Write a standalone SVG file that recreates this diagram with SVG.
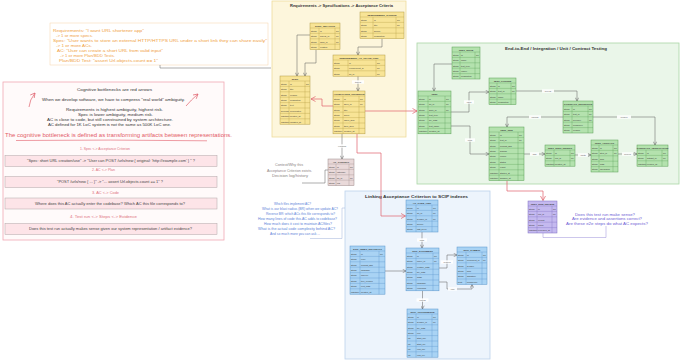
<svg xmlns="http://www.w3.org/2000/svg" width="680" height="361" viewBox="0 0 680 361">
<defs>
<style>
text{font-family:"Liberation Sans",Arial,sans-serif}
.rg{stroke-width:.8}
.ry{fill:#fdf6dc;stroke:#eedc9c}
.rgn{fill:#eaf6e9;stroke:#aad6a6}
.rb{fill:#edf4fc;stroke:#bcd2ec}
.ttl{font-size:4.3px;font-weight:bold;fill:#333}
.tb rect{stroke-width:.5}
.tb path{fill:none;stroke-width:.35}
.tb text{font-size:2.2px;fill:#333}
.tb .h{font-size:2.4px;font-weight:bold;text-anchor:middle}
.y rect{fill:#f8e496;stroke:#b39c44}.y path{stroke:#b39c44}
.b rect{fill:#a9d3f4;stroke:#5a95cb}.b path{stroke:#5a95cb}
.g rect{fill:#b4e2ae;stroke:#5a9f56}.g path{stroke:#5a9f56}
.p rect{fill:#c4b9ef;stroke:#7d6ec2}.p path{stroke:#7d6ec2}
.c rect{fill:#e9d9d9;stroke:#9c8a8a}.c path{stroke:#9c8a8a}
.cn path{fill:none;stroke:#5a5a5a;stroke-width:.5}
.cn .rd{stroke:#e0606c;stroke-width:.7}
.lb rect{fill:#fff;opacity:.9}
.lb text{font-size:2.2px;fill:#555;text-anchor:middle}
.or{font-size:4.3px;fill:#f0a040}
.lt{font-size:4px;fill:#333}
.rt{font-size:3.4px;fill:#e0707c}
.bx{fill:#fde4e8;stroke:#b0a6a8;stroke-width:.5}
.bt{font-size:3.3px;fill:#444}
.bq{font-size:3.7px;fill:#5a82d8}
.pq{font-size:3.6px;fill:#6c5bd4}
.cq{font-size:3.6px;fill:#8a7f7f}
.br{fill:none;stroke-width:.5}
</style>
<marker id="ag" markerWidth="4" markerHeight="4" refX="3.6" refY="2" orient="auto" markerUnits="userSpaceOnUse"><path d="M0.3,0.3L3.6,2L0.3,3.7" fill="none" stroke="#5a5a5a" stroke-width=".5"/></marker>
<marker id="ar" markerWidth="6" markerHeight="6" refX="5" refY="3" orient="auto" markerUnits="userSpaceOnUse"><path d="M0.5,0.5L5,3L0.5,5.5" fill="none" stroke="#e0606c" stroke-width=".7"/></marker>
</defs>
<rect width="680" height="361" fill="#fff"/>

<!-- orange note -->
<g id="note-requirements">
<rect x="50" y="23" width="218" height="42" fill="none" stroke="#f6d3a8" stroke-width=".5"/>
<text class="or" x="53" y="32.2" textLength="91" lengthAdjust="spacingAndGlyphs">Requirements: "I want URL shortener app"</text>
<text class="or" x="56" y="37" textLength="37" lengthAdjust="spacingAndGlyphs">-&gt; 1 or more specs.</text>
<text class="or" x="53" y="42.2" textLength="214" lengthAdjust="spacingAndGlyphs">Spec: "User wants to store an external HTTP/HTTPS URL under a short link they can share easily"</text>
<text class="or" x="56" y="47.2" textLength="36" lengthAdjust="spacingAndGlyphs">-&gt; 1 or more ACs.</text>
<text class="or" x="57" y="52.2" textLength="106" lengthAdjust="spacingAndGlyphs">AC: "User can create a short URL from valid input"</text>
<text class="or" x="60" y="57.2" textLength="55" lengthAdjust="spacingAndGlyphs">-&gt; 1 or more Plan/BDD Tests.</text>
<text class="or" x="59" y="62.2" textLength="99" lengthAdjust="spacingAndGlyphs">Plan/BDD Test: "assert Url.objects.count == 1"</text>
</g>

<!-- left explanation box -->
<g id="note-bottlenecks">
<rect x="3" y="82" width="221" height="158" fill="#fffafa" stroke="#f1a9b3" stroke-width=".8"/>
<text class="lt" x="77" y="90.7" textLength="75" lengthAdjust="spacingAndGlyphs">Cognitive bottlenecks are red arrows</text>
<text class="lt" x="42" y="100.7" textLength="143" lengthAdjust="spacingAndGlyphs">When we develop software, we have to compress "real world" ambiguity.</text>
<text class="lt" x="66" y="111.4" textLength="97" lengthAdjust="spacingAndGlyphs">Requirements is highest ambiguity, highest risk.</text>
<text class="lt" x="78" y="115.9" textLength="75" lengthAdjust="spacingAndGlyphs">Spec is lower ambiguity, medium risk.</text>
<text class="lt" x="47" y="120.7" textLength="126" lengthAdjust="spacingAndGlyphs">AC is close to code, but still constrained by system architecture.</text>
<text class="lt" x="48" y="125.7" textLength="123" lengthAdjust="spacingAndGlyphs">AC defined for 1K LoC system is not the same as 500K LoC one.</text>
<path d="M29,107Q29.5,100 35,93" fill="none" stroke="#e0606c" stroke-width=".7" marker-end="url(#ar)"/>
<path d="M186,106Q191,100 198,94" fill="none" stroke="#e0606c" stroke-width=".7" marker-end="url(#ar)"/>
<text x="5" y="136.8" font-size="5.4" fill="#e35a68" textLength="227" lengthAdjust="spacingAndGlyphs">The cognitive bottleneck is defined as transforming artifacts between representations.</text>
<path d="M16,140.5Q110,139.5 207,140.8" fill="none" stroke="#e35a68" stroke-width=".6"/>
<text class="rt" x="80" y="150.2" textLength="50" lengthAdjust="spacingAndGlyphs">1. Spec &lt;-&gt; Acceptance Criterion</text>
<rect class="bx" x="5" y="155.5" width="212" height="11"/>
<text class="bt" x="27" y="162.2" textLength="168" lengthAdjust="spacingAndGlyphs">"Spec: short URL creation/use" -&gt; "User can POST /urls/new { original: 'http://example.com' } " ?</text>
<text class="rt" x="92" y="171.4" textLength="23" lengthAdjust="spacingAndGlyphs">2. AC &lt;-&gt; Plan</text>
<rect class="bx" x="5" y="176.5" width="212" height="11"/>
<text class="bt" x="57" y="183.2" textLength="106" lengthAdjust="spacingAndGlyphs">"POST /urls/new { ... }" -&gt; "... assert Url.objects.count == 1" ?</text>
<text class="rt" x="92" y="194.4" textLength="27" lengthAdjust="spacingAndGlyphs">3. AC &lt;-&gt; Code</text>
<rect class="bx" x="5" y="198" width="212" height="11"/>
<text class="bt" x="35" y="204.7" textLength="150" lengthAdjust="spacingAndGlyphs">Where does this AC actually enter the codebase? Which AC this file corresponds to?</text>
<text class="rt" x="70" y="218.4" textLength="67" lengthAdjust="spacingAndGlyphs">4. Test run &lt;-&gt; Steps &lt;-&gt; Evidence</text>
<rect class="bx" x="5" y="223.5" width="212" height="11"/>
<text class="bt" x="29" y="230.2" textLength="163" lengthAdjust="spacingAndGlyphs">Does this test run actually makes sense given our system representation / artifact evidence?</text>
</g>

<!-- regions -->
<g id="region-requirements">
<rect class="rg ry" x="272" y="1" width="134" height="136"/>
<text class="ttl" x="290" y="7" textLength="103" lengthAdjust="spacingAndGlyphs">Requirements -&gt; Specifications -&gt; Acceptance Criteria</text>
</g>
<g id="region-testing">
<rect class="rg rgn" x="417" y="43" width="262" height="141"/>
<text class="ttl" x="505" y="49.5" textLength="102" lengthAdjust="spacingAndGlyphs">End-to-End / Integration / Unit / Contract Testing</text>
</g>
<g id="region-scip">
<rect class="rg rb" x="345" y="191" width="145" height="168"/>
<text class="ttl" x="365" y="197.5" textLength="103" lengthAdjust="spacingAndGlyphs">Linking Acceptance Criterion to SCIP indexes</text>
</g>

<!-- connectors -->
<g id="connectors" class="cn">
<path d="M160,65V68H271"/>
<path d="M310,35H297V76" marker-end="url(#ag)"/>
<path d="M316,49.6V63H305V76" marker-end="url(#ag)"/>
<path d="M382,38.6V47H358V55" marker-end="url(#ag)"/>
<path d="M358,76.2V91" marker-end="url(#ag)"/>
<path d="M342,133.8V159" marker-end="url(#ag)"/>
<path d="M302,183H325V170H328"/>
<path class="rd" d="M333,106H322V99H311" marker-end="url(#ar)"/>
<path class="rd" d="M365,111H417" marker-end="url(#ar)"/>
<path class="rd" d="M357,133.8V153H381V216H405.5" marker-end="url(#ar)"/>
<path class="rd" d="M507,180.6V191H543V200.5" marker-end="url(#ar)"/>
<path d="M422,232V248" marker-end="url(#ag)"/>
<path d="M385,271H406" marker-end="url(#ag)"/>
<path d="M439,268H447V255H457" marker-end="url(#ag)"/>
<path d="M439,282H447V289H472V284.4" marker-end="url(#ag)"/>
<path d="M422.5,290.8V309" marker-end="url(#ag)"/>
<path d="M310,238.5H342V208H345" style="stroke:#9fb0d8"/>
<path d="M452,64H434V91" marker-end="url(#ag)"/>
<path d="M451,112H469V92H489" marker-end="url(#ag)"/>
<path d="M451,126H470V154H489" marker-end="url(#ag)"/>
<path d="M516,91H577V101" marker-end="url(#ag)"/>
<path d="M563,117H507V127" marker-end="url(#ag)"/>
<path d="M593,117H655V145" marker-end="url(#ag)"/>
<path d="M524,154H545" marker-end="url(#ag)"/>
<path d="M575,155H591" marker-end="url(#ag)"/>
<path d="M618,154H637" marker-end="url(#ag)"/>
<path d="M543,233V237.5H606V226" style="stroke:#9a8fd8"/>
<g class="lb"><rect x="352" y="80.3" width="12" height="3.4"/><text x="358" y="82.8">traces</text></g>
<g class="lb"><rect x="336" y="144.3" width="12" height="3.4"/><text x="342" y="146.8">explains</text></g>
<g class="lb"><rect x="417" y="238.3" width="10" height="3.4"/><text x="422" y="240.8">links</text></g>
<g class="lb"><rect x="441" y="260.3" width="12" height="3.4"/><text x="447" y="262.8">defines</text></g>
<g class="lb"><rect x="448" y="287.3" width="9" height="3.4"/><text x="452.5" y="289.8">refs</text></g>
<g class="lb"><rect x="416.5" y="298.3" width="12" height="3.4"/><text x="422.5" y="300.8">occurs</text></g>
<g class="lb"><rect x="464" y="100.3" width="10" height="3.4"/><text x="469" y="102.8">uses</text></g>
<g class="lb"><rect x="465" y="138.3" width="10" height="3.4"/><text x="470" y="140.8">runs</text></g>
<g class="lb"><rect x="542" y="89.3" width="12" height="3.4"/><text x="548" y="91.8">covers</text></g>
<g class="lb"><rect x="529" y="115.3" width="12" height="3.4"/><text x="535" y="117.8">checks</text></g>
<g class="lb"><rect x="617" y="115.3" width="14" height="3.4"/><text x="624" y="117.8">verified</text></g>
<g class="lb"><rect x="530" y="152.3" width="9" height="3.4"/><text x="534.5" y="154.8">has</text></g>
<g class="lb"><rect x="578" y="153.3" width="10" height="3.4"/><text x="583" y="155.8">emits</text></g>
<g class="lb"><rect x="622" y="152.3" width="11" height="3.4"/><text x="627.5" y="154.8">proves</text></g>
</g>

<!-- yellow tables -->
<g id="spec-relation" class="tb y">
<rect x="310" y="23" width="30" height="26.6"/>
<path d="M310,28H340M310,33.4H340M310,38.8H340M310,44.2H340M319,28V49.6M335,28V49.6"/>
<text class="h" x="325" y="26.5">SPEC_RELATION</text>
<text x="311" y="31.7">string</text><text x="320" y="31.7">id</text><text x="336" y="31.7">PK</text>
<text x="311" y="37.1">string</text><text x="320" y="37.1">parent_id</text><text x="336" y="37.1">FK</text>
<text x="311" y="42.5">string</text><text x="320" y="42.5">child_id</text><text x="336" y="42.5">FK</text>
<text x="311" y="47.9">string</text><text x="320" y="47.9">relation</text>
</g>
<g id="requirement" class="tb y">
<rect x="360" y="12" width="44" height="26.6"/>
<path d="M360,17H404M360,22.4H404M360,27.8H404M360,33.2H404M373,17V38.6M396,17V38.6"/>
<text class="h" x="382" y="15.5">REQUIREMENT_SOURCE</text>
<text x="361" y="20.7">string</text><text x="374" y="20.7">id</text><text x="397" y="20.7">PK</text>
<text x="361" y="26.1">string</text><text x="374" y="26.1">title</text><text x="397" y="26.1">FK</text>
<text x="361" y="31.5">string</text><text x="374" y="31.5">source</text>
<text x="361" y="36.9">string</text><text x="374" y="36.9">description</text>
</g>
<g id="requirement-ac-trace" class="tb y">
<rect x="333" y="55" width="52" height="21.2"/>
<path d="M333,60H385M333,65.4H385M333,70.8H385M348,60V76.2M376,60V76.2"/>
<text class="h" x="359" y="58.5">REQUIREMENT_AC_TRACE_LINK</text>
<text x="334" y="63.7">string</text><text x="349" y="63.7">id</text><text x="377" y="63.7">PK</text>
<text x="334" y="69.1">string</text><text x="349" y="69.1">requirement_id</text><text x="377" y="69.1">FK</text>
<text x="334" y="74.5">string</text><text x="349" y="74.5">ac_id</text><text x="377" y="74.5">FK</text>
</g>
<g id="spec" class="tb y">
<rect x="280" y="76" width="30" height="48.2"/>
<path d="M280,81H310M280,86.4H310M280,91.8H310M280,97.2H310M280,102.6H310M280,108H310M280,113.4H310M280,118.8H310M289,81V124.2M305,81V124.2"/>
<text class="h" x="295" y="79.5">SPEC</text>
<text x="281" y="84.7">string</text><text x="290" y="84.7">id</text><text x="306" y="84.7">PK</text>
<text x="281" y="90.1">string</text><text x="290" y="90.1">title</text>
<text x="281" y="95.5">string</text><text x="290" y="95.5">version</text>
<text x="281" y="100.9">string</text><text x="290" y="100.9">description</text>
<text x="281" y="106.3">string</text><text x="290" y="106.3">text</text>
<text x="281" y="111.7">boolean</text><text x="290" y="111.7">deprecated</text>
<text x="281" y="117.1">datetime</text><text x="290" y="117.1">created_at</text>
<text x="281" y="122.5">datetime</text><text x="290" y="122.5">updated_at</text>
</g>
<g id="acceptance-criterion" class="tb y">
<rect x="333" y="91" width="32" height="42.8"/>
<path d="M333,96H365M333,101.4H365M333,106.8H365M333,112.2H365M333,117.6H365M333,123H365M333,128.4H365M343,96V133.8M359,96V133.8"/>
<text class="h" x="349" y="94.5">ACCEPTANCE_CRITERION</text>
<text x="334" y="99.7">string</text><text x="344" y="99.7">id</text><text x="360" y="99.7">PK</text>
<text x="334" y="105.1">string</text><text x="344" y="105.1">spec_id</text><text x="360" y="105.1">FK</text>
<text x="334" y="110.5">string</text><text x="344" y="110.5">title</text>
<text x="334" y="115.9">string</text><text x="344" y="115.9">given</text>
<text x="334" y="121.3">string</text><text x="344" y="121.3">when_step</text>
<text x="334" y="126.7">string</text><text x="344" y="126.7">then_step</text>
<text x="334" y="132.1">datetime</text><text x="344" y="132.1">created_at</text>
</g>

<!-- context -->
<g id="ac-context" class="tb c">
<rect x="328" y="159" width="26" height="26.6"/>
<path d="M328,164H354M328,169.4H354M328,174.8H354M328,180.2H354M336,164V185.6M349,164V185.6"/>
<text class="h" x="341" y="162.5">AC_CONTEXT</text>
<text x="329" y="167.7">string</text><text x="337" y="167.7">id</text><text x="350" y="167.7">PK</text>
<text x="329" y="173.1">string</text><text x="337" y="173.1">rationale</text>
<text x="329" y="178.5">string</text><text x="337" y="178.5">ac_id</text><text x="350" y="178.5">FK</text>
<text x="329" y="183.9">string</text><text x="337" y="183.9">log</text>
</g>
<g id="note-context">
<text class="cq" x="275" y="166.3" textLength="28" lengthAdjust="spacingAndGlyphs">Context/Why this</text>
<text class="cq" x="267" y="171.8" textLength="45" lengthAdjust="spacingAndGlyphs">Acceptance Criterion exists.</text>
<text class="cq" x="272" y="177.3" textLength="36" lengthAdjust="spacingAndGlyphs">Decision log/history</text>
</g>
<g id="note-questions">
<text class="bq" x="274" y="205.3" textLength="37" lengthAdjust="spacingAndGlyphs">Which files implement AC?</text>
<text class="bq" x="262" y="210.3" textLength="76" lengthAdjust="spacingAndGlyphs">What is our blast radius (BR) when we update AC?</text>
<text class="bq" x="266" y="215.3" textLength="69" lengthAdjust="spacingAndGlyphs">Reverse BR: which ACs this file corresponds to?</text>
<text class="bq" x="258" y="220.3" textLength="79" lengthAdjust="spacingAndGlyphs">How many lines of code this AC adds to codebase?</text>
<text class="bq" x="264" y="225.3" textLength="68" lengthAdjust="spacingAndGlyphs">How much does it cost to maintain AC/files?</text>
<text class="bq" x="258" y="230.3" textLength="77" lengthAdjust="spacingAndGlyphs">What is the actual code complexity behind AC?</text>
<text class="bq" x="270" y="235.3" textLength="50" lengthAdjust="spacingAndGlyphs">And so much more you can ask ...</text>
</g>

<!-- blue tables -->
<g id="ac-code-link" class="tb b">
<rect x="406" y="200" width="32" height="32"/>
<path d="M406,205H438M406,210.4H438M406,215.8H438M406,221.2H438M406,226.6H438M416,205V232M432,205V232"/>
<text class="h" x="422" y="203.5">AC_CODE_LINK</text>
<text x="407" y="208.7">string</text><text x="417" y="208.7">id</text><text x="433" y="208.7">PK</text>
<text x="407" y="214.1">string</text><text x="417" y="214.1">ac_id</text><text x="433" y="214.1">FK</text>
<text x="407" y="219.5">string</text><text x="417" y="219.5">symbol_id</text><text x="433" y="219.5">FK</text>
<text x="407" y="224.9">string</text><text x="417" y="224.9">source</text>
<text x="407" y="230.3">string</text><text x="417" y="230.3">last_seen</text>
</g>
<g id="scip-index" class="tb b">
<rect x="350" y="246" width="35" height="48.2"/>
<path d="M350,251H385M350,256.4H385M350,261.8H385M350,267.2H385M350,272.6H385M350,278H385M350,283.4H385M350,288.8H385M360,251V294.2M379,251V294.2"/>
<text class="h" x="367.5" y="249.5">SCIP_INDEX_SNAPSHOT</text>
<text x="351" y="254.7">string</text><text x="361" y="254.7">id</text><text x="380" y="254.7">PK</text>
<text x="351" y="260.1">string</text><text x="361" y="260.1">repo</text>
<text x="351" y="265.5">string</text><text x="361" y="265.5">commit_sha</text>
<text x="351" y="270.9">string</text><text x="361" y="270.9">language</text>
<text x="351" y="276.3">string</text><text x="361" y="276.3">indexer</text>
<text x="351" y="281.7">string</text><text x="361" y="281.7">tool_version</text>
<text x="351" y="287.1">string</text><text x="361" y="287.1">root_path</text>
<text x="351" y="292.5">datetime</text><text x="361" y="292.5">created_at</text>
</g>
<g id="scip-document" class="tb b">
<rect x="406" y="248" width="33" height="42.8"/>
<path d="M406,253H439M406,258.4H439M406,263.8H439M406,269.2H439M406,274.6H439M406,280H439M406,285.4H439M416,253V290.8M433,253V290.8"/>
<text class="h" x="422.5" y="251.5">SCIP_DOCUMENT</text>
<text x="407" y="256.7">string</text><text x="417" y="256.7">id</text><text x="434" y="256.7">PK</text>
<text x="407" y="262.1">string</text><text x="417" y="262.1">index_id</text><text x="434" y="262.1">FK</text>
<text x="407" y="267.5">string</text><text x="417" y="267.5">relative_path</text>
<text x="407" y="272.9">string</text><text x="417" y="272.9">file_path</text>
<text x="407" y="278.3">string</text><text x="417" y="278.3">hash</text>
<text x="407" y="283.7">string</text><text x="417" y="283.7">language</text>
<text x="407" y="289.1">string</text><text x="417" y="289.1">encoding</text>
</g>
<g id="scip-symbol" class="tb b">
<rect x="457" y="247" width="30" height="37.4"/>
<path d="M457,252H487M457,257.4H487M457,262.8H487M457,268.2H487M457,273.6H487M457,279H487M466,252V284.4M482,252V284.4"/>
<text class="h" x="472" y="250.5">SCIP_SYMBOL</text>
<text x="458" y="255.7">string</text><text x="467" y="255.7">id</text><text x="483" y="255.7">PK</text>
<text x="458" y="261.1">string</text><text x="467" y="261.1">document_id</text><text x="483" y="261.1">FK</text>
<text x="458" y="266.5">string</text><text x="467" y="266.5">symbol</text>
<text x="458" y="271.9">string</text><text x="467" y="271.9">kind</text>
<text x="458" y="277.3">string</text><text x="467" y="277.3">signature</text>
<text x="458" y="282.7">float</text><text x="467" y="282.7">confidence</text>
</g>
<g id="scip-occurrence" class="tb b">
<rect x="407" y="309" width="31" height="48.2"/>
<path d="M407,314H438M407,319.4H438M407,324.8H438M407,330.2H438M407,335.6H438M407,341H438M407,346.4H438M407,351.8H438M416,314V357.2M432,314V357.2"/>
<text class="h" x="422.5" y="312.5">SCIP_OCCURRENCE</text>
<text x="408" y="317.7">string</text><text x="417" y="317.7">id</text><text x="433" y="317.7">PK</text>
<text x="408" y="323.1">string</text><text x="417" y="323.1">symbol_id</text><text x="433" y="323.1">FK</text>
<text x="408" y="328.5">string</text><text x="417" y="328.5">file_path</text>
<text x="408" y="333.9">string</text><text x="417" y="333.9">role</text>
<text x="408" y="339.3">int</text><text x="417" y="339.3">start_line</text>
<text x="408" y="344.7">int</text><text x="417" y="344.7">start_col</text>
<text x="408" y="350.1">int</text><text x="417" y="350.1">end_line</text>
<text x="408" y="355.5">int</text><text x="417" y="355.5">end_col</text>
</g>

<!-- green tables -->
<g id="test-suite" class="tb g">
<rect x="452" y="47" width="28" height="32"/>
<path d="M452,52H480M452,57.4H480M452,62.8H480M452,68.2H480M452,73.6H480M460,52V79M475,52V79"/>
<text class="h" x="466" y="50.5">TEST_SUITE</text>
<text x="453" y="55.7">string</text><text x="461" y="55.7">id</text><text x="476" y="55.7">PK</text>
<text x="453" y="61.1">string</text><text x="461" y="61.1">name</text>
<text x="453" y="66.5">string</text><text x="461" y="66.5">test_type</text>
<text x="453" y="71.9">string</text><text x="461" y="71.9">owner</text>
<text x="453" y="77.3">string</text><text x="461" y="77.3">description</text>
</g>
<g id="test" class="tb g">
<rect x="418" y="91" width="33" height="42.8"/>
<path d="M418,96H451M418,101.4H451M418,106.8H451M418,112.2H451M418,117.6H451M418,123H451M418,128.4H451M428,96V133.8M445,96V133.8"/>
<text class="h" x="434.5" y="94.5">TEST</text>
<text x="419" y="99.7">string</text><text x="429" y="99.7">id</text><text x="446" y="99.7">PK</text>
<text x="419" y="105.1">string</text><text x="429" y="105.1">ac_id</text><text x="446" y="105.1">FK</text>
<text x="419" y="110.5">string</text><text x="429" y="110.5">suite_id</text><text x="446" y="110.5">FK</text>
<text x="419" y="115.9">string</text><text x="429" y="115.9">test_type</text>
<text x="419" y="121.3">string</text><text x="429" y="121.3">file_path</text>
<text x="419" y="126.7">string</text><text x="429" y="126.7">test_name</text>
<text x="419" y="132.1">datetime</text><text x="429" y="132.1">created_at</text>
</g>
<g id="test-fixture" class="tb g">
<rect x="489" y="78" width="27" height="26.6"/>
<path d="M489,83H516M489,88.4H516M489,93.8H516M489,99.2H516M497,83V104.6M511,83V104.6"/>
<text class="h" x="502.5" y="81.5">TEST_FIXTURE</text>
<text x="490" y="86.7">string</text><text x="498" y="86.7">id</text><text x="512" y="86.7">PK</text>
<text x="490" y="92.1">string</text><text x="498" y="92.1">test_id</text><text x="512" y="92.1">FK</text>
<text x="490" y="97.5">string</text><text x="498" y="97.5">name</text>
<text x="490" y="102.9">string</text><text x="498" y="102.9">description</text>
</g>
<g id="contract-definition" class="tb g">
<rect x="563" y="101" width="30" height="32"/>
<path d="M563,106H593M563,111.4H593M563,116.8H593M563,122.2H593M563,127.6H593M572,106V133M588,106V133"/>
<text class="h" x="578" y="104.5">CONTRACT_DEFINITION</text>
<text x="564" y="109.7">string</text><text x="573" y="109.7">id</text><text x="589" y="109.7">PK</text>
<text x="564" y="115.1">string</text><text x="573" y="115.1">test_id</text><text x="589" y="115.1">FK</text>
<text x="564" y="120.5">string</text><text x="573" y="120.5">provider</text><text x="589" y="120.5">FK</text>
<text x="564" y="125.9">string</text><text x="573" y="125.9">consumer</text>
<text x="564" y="131.3">string</text><text x="573" y="131.3">version</text>
</g>
<g id="test-run" class="tb g">
<rect x="489" y="127" width="35" height="53.6"/>
<path d="M489,132H524M489,137.4H524M489,142.8H524M489,148.2H524M489,153.6H524M489,159H524M489,164.4H524M489,169.8H524M489,175.2H524M499,132V180.6M518,132V180.6"/>
<text class="h" x="506.5" y="130.5">TEST_RUN</text>
<text x="490" y="135.7">string</text><text x="500" y="135.7">id</text><text x="519" y="135.7">PK</text>
<text x="490" y="141.1">string</text><text x="500" y="141.1">test_id</text><text x="519" y="141.1">FK</text>
<text x="490" y="146.5">string</text><text x="500" y="146.5">commit_sha</text>
<text x="490" y="151.9">string</text><text x="500" y="151.9">branch</text>
<text x="490" y="157.3">string</text><text x="500" y="157.3">runner</text>
<text x="490" y="162.7">string</text><text x="500" y="162.7">status</text>
<text x="490" y="168.1">string</text><text x="500" y="168.1">result</text>
<text x="490" y="173.5">datetime</text><text x="500" y="173.5">started_at</text>
<text x="490" y="178.9">datetime</text><text x="500" y="178.9">finished_at</text>
</g>
<g id="test-step-result" class="tb g">
<rect x="545" y="145" width="30" height="21.2"/>
<path d="M545,150H575M545,155.4H575M545,160.8H575M554,150V166.2M570,150V166.2"/>
<text class="h" x="560" y="148.5">TEST_STEP_RESULT</text>
<text x="546" y="153.7">string</text><text x="555" y="153.7">id</text><text x="571" y="153.7">PK</text>
<text x="546" y="159.1">string</text><text x="555" y="159.1">run_id</text><text x="571" y="159.1">FK</text>
<text x="546" y="164.5">datetime</text><text x="555" y="164.5">created_at</text>
</g>
<g id="test-artifact" class="tb g">
<rect x="591" y="140" width="27" height="32"/>
<path d="M591,145H618M591,150.4H618M591,155.8H618M591,161.2H618M591,166.6H618M599,145V172M613,145V172"/>
<text class="h" x="604.5" y="143.5">TEST_ARTIFACT</text>
<text x="592" y="148.7">string</text><text x="600" y="148.7">id</text><text x="614" y="148.7">PK</text>
<text x="592" y="154.1">string</text><text x="600" y="154.1">step_id</text><text x="614" y="154.1">FK</text>
<text x="592" y="159.5">string</text><text x="600" y="159.5">kind</text>
<text x="592" y="164.9">string</text><text x="600" y="164.9">path</text>
<text x="592" y="170.3">string</text><text x="600" y="170.3">checksum</text>
</g>
<g id="contract-verification" class="tb g">
<rect x="637" y="145" width="31" height="21.2"/>
<path d="M637,150H668M637,155.4H668M637,160.8H668M646,150V166.2M662,150V166.2"/>
<text class="h" x="652.5" y="148.5">CONTRACT_VERIFICATION</text>
<text x="638" y="153.7">string</text><text x="647" y="153.7">id</text><text x="663" y="153.7">PK</text>
<text x="638" y="159.1">string</text><text x="647" y="159.1">artifact_id</text><text x="663" y="159.1">FK</text>
<text x="638" y="164.5">datetime</text><text x="647" y="164.5">verified_at</text>
</g>

<!-- purple -->
<g id="test-run-review" class="tb p">
<rect x="528" y="201" width="29" height="32"/>
<path d="M528,206H557M528,211.4H557M528,216.8H557M528,222.2H557M528,227.6H557M537,206V233M552,206V233"/>
<text class="h" x="542.5" y="204.5">TEST_RUN_REVIEW</text>
<text x="529" y="209.7">string</text><text x="538" y="209.7">id</text><text x="553" y="209.7">PK</text>
<text x="529" y="215.1">string</text><text x="538" y="215.1">run_id</text><text x="553" y="215.1">FK</text>
<text x="529" y="220.5">string</text><text x="538" y="220.5">verdict</text>
<text x="529" y="225.9">string</text><text x="538" y="225.9">notes</text>
<text x="529" y="231.3">datetime</text><text x="538" y="231.3">reviewed_at</text>
</g>
<g id="note-review">
<text class="pq" x="575" y="215.8" textLength="60" lengthAdjust="spacingAndGlyphs">Does this test run make sense?</text>
<text class="pq" x="572" y="220.3" textLength="70" lengthAdjust="spacingAndGlyphs">Are evidence and assertions correct?</text>
<text class="pq" x="566" y="224.8" textLength="82" lengthAdjust="spacingAndGlyphs">Are these e2e steps do what AC expects?</text>
</g>
</svg>
